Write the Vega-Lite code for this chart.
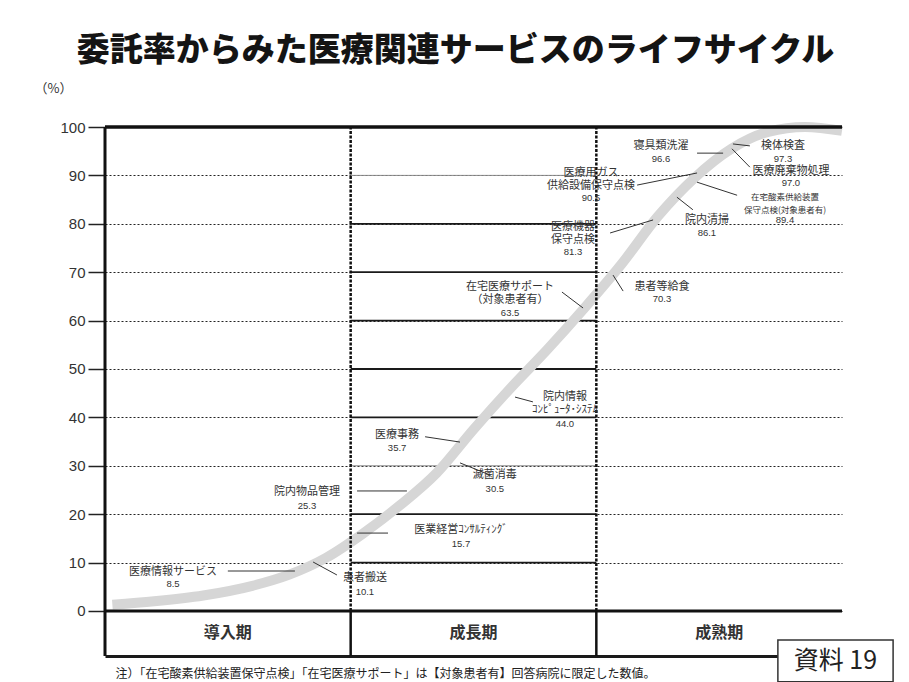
{
  "$schema": "https://vega.github.io/schema/vega-lite/v6.json",
  "width": 737,
  "height": 529,
  "autosize": "none",
  "padding": {"left": 105, "top": 127, "right": 67, "bottom": 26},
  "background": "white",
  "config": {"font": "Noto Sans CJK JP", "view": {"stroke": null}},
  "title": {
    "text": "委託率からみた医療関連サービスのライフサイクル",
    "fontSize": 33,
    "fontWeight": 900,
    "color": "#141414",
    "anchor": "middle",
    "frame": "group",
    "dx": -18,
    "offset": 14,
    "font": "Noto Sans CJK JP"
  },
  "datasets": {
    "one": [{}],
    "grid": [{"v": 10}, {"v": 20}, {"v": 30}, {"v": 40}, {"v": 50}, {"v": 60}, {"v": 70}, {"v": 80}, {"v": 90}],
    "curve": [
      {"x": 3, "v": 1.3}, {"x": 20, "v": 2.0}, {"x": 40, "v": 3.2}, {"x": 60, "v": 5.2},
      {"x": 75, "v": 7.5}, {"x": 90, "v": 11.0}, {"x": 105, "v": 16.0}, {"x": 120, "v": 21.8},
      {"x": 135, "v": 28.5}, {"x": 150, "v": 37.5}, {"x": 165, "v": 46.0}, {"x": 180, "v": 54.0},
      {"x": 195, "v": 62.5}, {"x": 210, "v": 71.5}, {"x": 225, "v": 81.5}, {"x": 240, "v": 89.5},
      {"x": 255, "v": 95.5}, {"x": 270, "v": 99.0}, {"x": 285, "v": 100.0}, {"x": 300, "v": 99.2}
    ],
    "labels": [
      {"name": "医療情報サービス", "rate": 8.5, "x": 27.7, "ny": 8.06, "vy": 5.58, "lx1": 50.0, "ly1": 8.26, "lx2": 77.3, "ly2": 8.26},
      {"name": "患者搬送", "rate": 10.1, "x": 105.8, "ny": 6.82, "vy": 3.93, "lx1": 84.7, "ly1": 10.12, "lx2": 94.4, "ly2": 7.44},
      {"name": "院内物品管理", "rate": 25.3, "x": 82.2, "ny": 24.59, "vy": 21.69, "lx1": 102.6, "ly1": 24.8, "lx2": 122.9, "ly2": 24.8},
      {"name": "医業経営ｺﾝｻﾙﾃｨﾝｸﾞ", "rate": 15.7, "x": 144.9, "ny": 16.74, "vy": 13.84, "lx1": 102.6, "ly1": 16.1, "lx2": 115.2, "ly2": 16.1},
      {"name": "医療事務", "rate": 35.7, "x": 118.9, "ny": 36.36, "vy": 33.68, "lx1": 130.3, "ly1": 36.0, "lx2": 144.5, "ly2": 34.9},
      {"name": "滅菌消毒", "rate": 30.5, "x": 158.7, "ny": 28.10, "vy": 25.21, "lx1": 144.5, "ly1": 30.6, "lx2": 156.7, "ly2": 28.1},
      {"name": "院内情報\nｺﾝﾋﾟｭｰﾀ･ｼｽﾃﾑ", "rate": 44.0, "x": 187.2, "ny": 44.21, "vy": 38.64, "lx1": 166.9, "ly1": 44.2, "lx2": 174.2, "ly2": 43.2},
      {"name": "在宅医療サポート\n（対象患者有）", "rate": 63.5, "x": 164.9, "ny": 66.94, "vy": 61.57, "lx1": 186.0, "ly1": 65.9, "lx2": 194.6, "ly2": 62.6},
      {"name": "患者等給食", "rate": 70.3, "x": 226.7, "ny": 66.94, "vy": 64.46, "lx1": 206.8, "ly1": 69.4, "lx2": 210.9, "ly2": 66.1},
      {"name": "医療機器\n保守点検", "rate": 81.3, "x": 190.5, "ny": 79.34, "vy": 74.17, "lx1": 205.6, "ly1": 78.1, "lx2": 223.1, "ly2": 80.8},
      {"name": "医療用ガス\n供給設備保守点検", "rate": 90.5, "x": 197.8, "ny": 90.50, "vy": 85.33, "lx1": 216.6, "ly1": 88.0, "lx2": 241.0, "ly2": 90.5},
      {"name": "院内清掃", "rate": 86.1, "x": 245.0, "ny": 80.79, "vy": 78.10, "lx1": 232.8, "ly1": 85.5, "lx2": 239.3, "ly2": 82.9},
      {"name": "寝具類洗濯", "rate": 96.6, "x": 226.3, "ny": 96.07, "vy": 93.39, "lx1": 241.0, "ly1": 94.6, "lx2": 251.6, "ly2": 94.6},
      {"name": "検体検査", "rate": 97.3, "x": 276.0, "ny": 96.07, "vy": 93.39, "lx1": 255.6, "ly1": 96.5, "lx2": 262.5, "ly2": 96.1},
      {"name": "医療廃棄物処理", "rate": 97.0, "x": 279.2, "ny": 90.91, "vy": 88.43, "lx1": 255.2, "ly1": 95.5, "lx2": 262.5, "ly2": 91.7},
      {"name": "在宅酸素供給装置\n保守点検(対象患者有)", "rate": 89.4, "x": 276.8, "ny": 85.54, "vy": 80.79, "lx1": 241.0, "ly1": 88.6, "lx2": 257.3, "ly2": 85.9}
    ],
    "periods": [{"p": "導入期", "mid": 50}, {"p": "成長期", "mid": 150}, {"p": "成熟期", "mid": 250}]
  },
  "layer": [
    {
      "data": {"name": "grid"},
      "mark": {"type": "rule"},
      "encoding": {
        "y": {
          "field": "v", "type": "quantitative",
          "scale": {"domain": [-9.3, 100], "nice": false, "zero": false},
          "axis": {
            "values": [0, 10, 20, 30, 40, 50, 60, 70, 80, 90, 100],
            "title": "（%）", "titleAngle": 0, "titleX": -52, "titleY": -39,
            "titleAlign": "center", "titleBaseline": "middle", "titleFontSize": 13,
            "titleFontWeight": "normal", "titleColor": "#333",
            "grid": true, "gridDash": [2, 2], "gridColor": "#222", "gridWidth": 1,
            "tickSize": 17, "tickColor": "#222", "tickWidth": 1.5,
            "labelFontSize": 15, "labelColor": "#333", "labelPadding": 3,
            "labelFont": "Liberation Sans", "domain": false
          }
        },
        "x": {
          "datum": 100, "type": "quantitative",
          "scale": {"domain": [0, 300], "nice": false, "zero": false},
          "axis": {
            "orient": "bottom", "values": [], "labels": false, "ticks": false, "grid": false,
            "domain": true, "domainColor": "#1a1a1a", "domainWidth": 3,
            "title": "注）「在宅酸素供給装置保守点検」「在宅医療サポート」は【対象患者有】回答病院に限定した数値。",
            "titleX": 10, "titleY": 17, "titleAlign": "left", "titleBaseline": "middle",
            "titleFontSize": 12, "titleFontWeight": "normal", "titleColor": "#222"
          }
        },
        "x2": {"datum": 200},
        "color": {"condition": {"test": "datum.v == 30 || datum.v == 90", "value": "#8a8a8a"}, "value": "#1a1a1a"},
        "strokeWidth": {"condition": {"test": "datum.v == 30 || datum.v == 90", "value": 1}, "value": 1.8}
      }
    },
    {
      "data": {"name": "curve"},
      "mark": {"type": "line", "interpolate": "monotone", "stroke": "#d6d6d6", "strokeWidth": 10},
      "encoding": {
        "x": {"field": "x", "type": "quantitative"},
        "y": {"field": "v", "type": "quantitative"}
      }
    },
    {
      "data": {"name": "one"},
      "mark": {"type": "rule", "stroke": "#111", "strokeWidth": 2.5, "strokeDash": [3, 1.5]},
      "encoding": {"x": {"datum": 100, "type": "quantitative"}, "y": {"datum": 0, "type": "quantitative"}, "y2": {"datum": 100}}
    },
    {
      "data": {"name": "one"},
      "mark": {"type": "rule", "stroke": "#111", "strokeWidth": 2.5, "strokeDash": [3, 1.5]},
      "encoding": {"x": {"datum": 200, "type": "quantitative"}, "y": {"datum": 0, "type": "quantitative"}, "y2": {"datum": 100}}
    },
    {
      "data": {"name": "one"},
      "mark": {"type": "rule", "stroke": "#111", "strokeWidth": 2.5},
      "encoding": {"x": {"datum": 100, "type": "quantitative"}, "y": {"datum": -9.3, "type": "quantitative"}, "y2": {"datum": 0}}
    },
    {
      "data": {"name": "one"},
      "mark": {"type": "rule", "stroke": "#111", "strokeWidth": 2.5},
      "encoding": {"x": {"datum": 200, "type": "quantitative"}, "y": {"datum": -9.3, "type": "quantitative"}, "y2": {"datum": 0}}
    },
    {
      "data": {"name": "one"},
      "mark": {"type": "rule", "stroke": "#111", "strokeWidth": 3},
      "encoding": {"x": {"datum": 0, "type": "quantitative"}, "y": {"datum": -9.3, "type": "quantitative"}, "y2": {"datum": 100}}
    },
    {
      "data": {"name": "one"},
      "mark": {"type": "rule", "stroke": "#111", "strokeWidth": 3.5},
      "encoding": {"y": {"datum": 100, "type": "quantitative"}, "x": {"datum": 0, "type": "quantitative"}, "x2": {"datum": 300}}
    },
    {
      "data": {"name": "one"},
      "mark": {"type": "rule", "stroke": "#111", "strokeWidth": 3},
      "encoding": {"y": {"datum": 0, "type": "quantitative"}, "x": {"datum": 0, "type": "quantitative"}, "x2": {"datum": 300}}
    },
    {
      "data": {"name": "labels"},
      "mark": {"type": "rule", "stroke": "#333", "strokeWidth": 1},
      "encoding": {
        "x": {"field": "lx1", "type": "quantitative"},
        "y": {"field": "ly1", "type": "quantitative"},
        "x2": {"field": "lx2"},
        "y2": {"field": "ly2"}
      }
    },
    {
      "data": {"name": "labels"},
      "mark": {"type": "text", "align": "center", "baseline": "middle", "lineBreak": "\n", "lineHeight": 13, "color": "#333"},
      "encoding": {
        "x": {"field": "x", "type": "quantitative"},
        "y": {"field": "ny", "type": "quantitative"},
        "text": {"field": "name", "type": "nominal"},
        "size": {"condition": {"test": "datum.rate == 89.4", "value": 8.5}, "value": 11}
      }
    },
    {
      "data": {"name": "labels"},
      "mark": {"type": "text", "align": "center", "baseline": "middle", "color": "#333", "fontSize": 9.5, "font": "Liberation Sans"},
      "encoding": {
        "x": {"field": "x", "type": "quantitative"},
        "y": {"field": "vy", "type": "quantitative"},
        "text": {"field": "rate", "type": "quantitative", "format": ".1f"}
      }
    },
    {
      "data": {"name": "periods"},
      "mark": {"type": "text", "align": "center", "baseline": "middle", "fontSize": 16, "fontWeight": "bold", "color": "#333"},
      "encoding": {
        "x": {"field": "mid", "type": "quantitative"},
        "y": {"datum": -4.55, "type": "quantitative"},
        "text": {"field": "p", "type": "nominal"}
      }
    },
    {
      "data": {"name": "one"},
      "mark": {"type": "rect", "fill": "white", "stroke": "#333", "strokeWidth": 1.5, "clip": false},
      "encoding": {
        "x": {"datum": 273.9, "type": "quantitative"},
        "x2": {"datum": 320.8},
        "y": {"datum": -6.0, "type": "quantitative"},
        "y2": {"datum": -14.6}
      }
    },
    {
      "data": {"name": "one"},
      "mark": {"type": "text", "align": "center", "baseline": "middle", "fontSize": 25, "color": "#222", "clip": false},
      "encoding": {
        "x": {"datum": 297.3, "type": "quantitative"},
        "y": {"datum": -10.4, "type": "quantitative"},
        "text": {"value": "資料 19"}
      }
    }
  ]
}
